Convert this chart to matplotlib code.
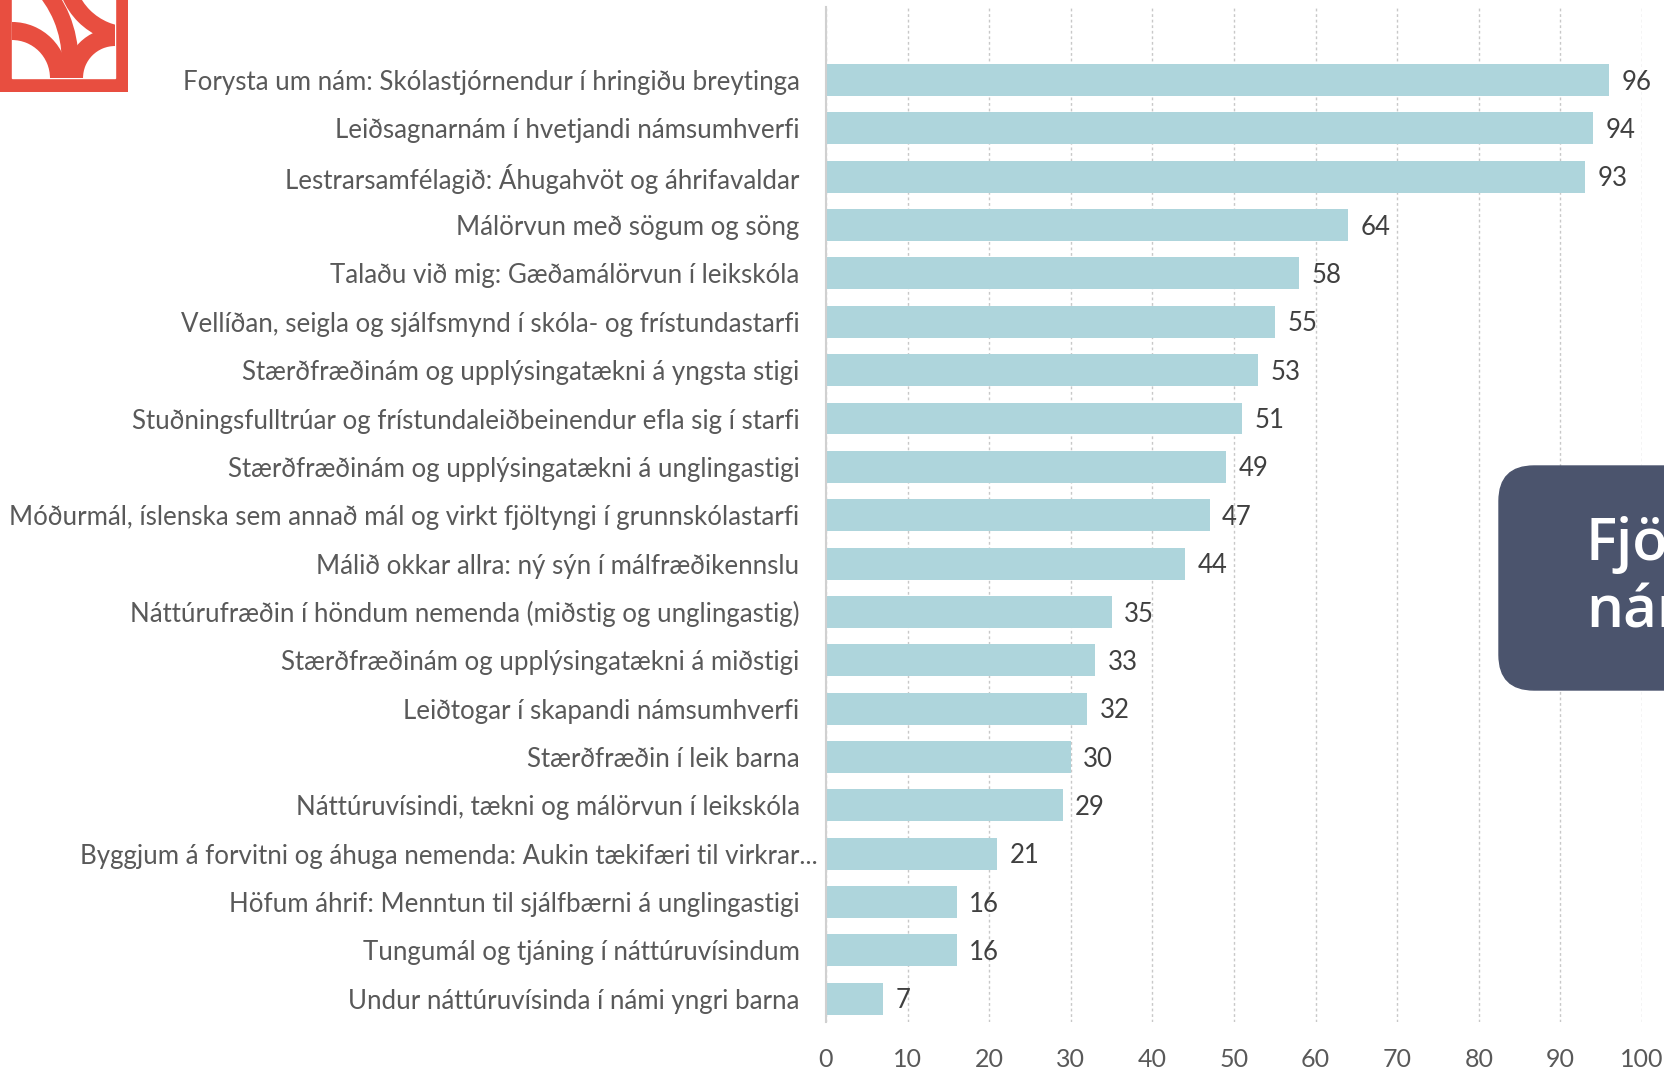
import matplotlib
matplotlib.use("Agg")
import matplotlib.pyplot as plt
from matplotlib.patches import Rectangle, Arc, FancyBboxPatch
import matplotlib.transforms as mtransforms

categories = [
    "Forysta um nám: Skólastjórnendur í hringiðu breytinga",
    "Leiðsagnarnám í hvetjandi námsumhverfi",
    "Lestrarsamfélagið: Áhugahvöt og áhrifavaldar",
    "Málörvun með sögum og söng",
    "Talaðu við mig: Gæðamálörvun í leikskóla",
    "Vellíðan, seigla og sjálfsmynd í skóla- og frístundastarfi",
    "Stærðfræðinám og upplýsingatækni á yngsta stigi",
    "Stuðningsfulltrúar og frístundaleiðbeinendur efla sig í starfi",
    "Stærðfræðinám og upplýsingatækni á unglingastigi",
    "Móðurmál, íslenska sem annað mál og virkt fjöltyngi í grunnskólastarfi",
    "Málið okkar allra: ný sýn í málfræðikennslu",
    "Náttúrufræðin í höndum nemenda (miðstig og unglingastig)",
    "Stærðfræðinám og upplýsingatækni á miðstigi",
    "Leiðtogar í skapandi námsumhverfi",
    "Stærðfræðin í leik barna",
    "Náttúruvísindi, tækni og málörvun í leikskóla",
    "Byggjum á forvitni og áhuga nemenda: Aukin tækifæri til virkrar...",
    "Höfum áhrif: Menntun til sjálfbærni á unglingastigi",
    "Tungumál og tjáning í náttúruvísindum",
    "Undur náttúruvísinda í námi yngri barna",
]
values = [96, 94, 93, 64, 58, 55, 53, 51, 49, 47, 44, 35, 33, 32, 30, 29, 21, 16, 16, 7]
xticks = [0, 10, 20, 30, 40, 50, 60, 70, 80, 90, 100]
box_text = ["Fjöldi", "námskeiða"]

W, H = 1665, 1071
fig = plt.figure(figsize=(W / 100, H / 100), dpi=100)
fig.patch.set_facecolor("white")

font = "Lato"
label_color = "#595959"
bar_color = "#AED5DC"

ax = fig.add_axes([826 / W, 1 - 1022 / H, (1642 - 826) / W, (1022 - 7) / H])
n = len(categories)
ypos = list(range(n - 1, -1, -1))
ax.barh(ypos, values, height=0.66, color=bar_color, zorder=2)
ax.set_xlim(0, 100)
ax.set_ylim(-0.48, n - 1 + 1.51)
ax.set_xticks(xticks)
ax.set_xticklabels([str(t) for t in xticks], fontsize=18, color=label_color, family=font)
ax.set_yticks(ypos)
ax.set_yticklabels(categories, fontsize=18.6, color=label_color, family=font)
ax.tick_params(axis="x", length=0, pad=19)
ax.tick_params(axis="y", length=0, pad=19)
ax.grid(axis="x", color="#C8C8C8", linestyle=(0, (2, 2)), linewidth=1, zorder=0)
for s in ["top", "right", "bottom"]:
    ax.spines[s].set_visible(False)
ax.spines["left"].set_color("#D0D0D0")
ax.spines["left"].set_linewidth(1.5)
ax.spines["left"].set_zorder(3)

for y, v in zip(ypos, values):
    ax.annotate(str(v), (v, y), xytext=(9, -1.5), textcoords="offset points",
                va="center", ha="left", fontsize=18.5, color="#404040", family=font)

# the truncated label sits further right
for lbl in ax.get_yticklabels():
    if lbl.get_text().endswith("..."):
        lbl.set_transform(lbl.get_transform() +
                          mtransforms.ScaledTranslation(18 / 100, 0, fig.dpi_scale_trans))

# logo
lax = fig.add_axes([0, 1 - 92 / H, 128 / W, 92 / H])
lax.set_xlim(0, 128)
lax.set_ylim(92, 0)
lax.axis("off")
red = "#E84E40"
lax.add_patch(Rectangle((0, -5), 128, 97, color=red))
inner = Rectangle((12, -5), 103, 83, color="white")
lax.add_patch(inner)
arcs = [((12, 78), 47, 13), ((115, 78), 41, 13), ((-40, 60), 110, 12), ((130, -30), 65, 12)]
for (cx, cy), r, lw in arcs:
    a = Arc((cx, cy), 2 * r, 2 * r, color=red, linewidth=lw)
    lax.add_patch(a)
    a.set_clip_path(inner)

# dark box on right
bax = fig.add_axes([0, 0, 1, 1])
bax.set_xlim(0, W)
bax.set_ylim(H, 0)
bax.axis("off")
bax.patch.set_alpha(0)
bax.add_patch(FancyBboxPatch((1499 + 35, 466 + 35), 400, 224 - 70,
                             boxstyle="round,pad=35", color="#4B546D"))
bax.text(1586, 560, box_text[0], color="white", fontsize=42, family="Open Sans",
         fontweight="semibold", va="baseline")
bax.text(1586, 627, box_text[1], color="white", fontsize=42, family="Open Sans",
         fontweight="semibold", va="baseline")

fig.savefig("out.png", dpi=100)
